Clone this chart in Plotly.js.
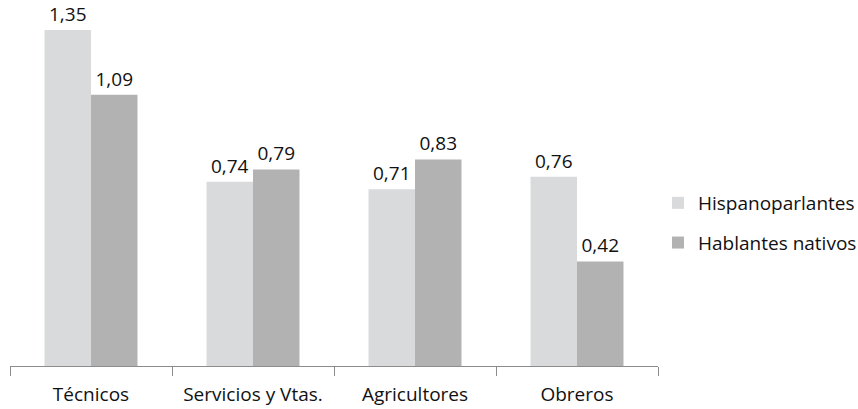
<!DOCTYPE html>
<html>
<head>
<meta charset="utf-8">
<script src="https://cdn.plot.ly/plotly-3.0.1.min.js"></script>
<style>
  html, body { margin: 0; padding: 0; background: #ffffff; }
  #chart { width: 858px; height: 409px; }
</style>
</head>
<body>
<div id="chart"></div>
<script>
// Occupational groups and the value for each speaker group
const categories = ["Técnicos", "Servicios y Vtas.", "Agricultores", "Obreros"];
const hispanoparlantes = [1.35, 0.74, 0.71, 0.76];
const hablantesNativos = [1.09, 0.79, 0.83, 0.42];
const seriesNames = ["Hispanoparlantes", "Hablantes nativos"];

const FONT = "'Open Sans', Lato, sans-serif";

function barTrace(name, values, color, group) {
  return {
    type: "bar",
    name: name,
    x: categories,
    y: values,
    legendgroup: group,
    marker: { color: color, line: { width: 0 } },
    texttemplate: "%{y:.2f}",
    textposition: "outside",
    cliponaxis: false,
    textfont: { family: FONT, size: 19, color: "#111111" },
    hoverinfo: "x+y+name"
  };
}

const data = [
  barTrace(seriesNames[0], hispanoparlantes, "#d9dadb", "a"),
  barTrace(seriesNames[1], hablantesNativos, "#b2b2b2", "b")
];

const layout = {
  width: 858,
  height: 409,
  separators: ",.",
  margin: { l: 10, r: 200, t: 30, b: 43, autoexpand: false },
  paper_bgcolor: "#ffffff",
  plot_bgcolor: "#ffffff",
  font: { family: FONT, size: 19, color: "#111111" },
  barmode: "group",
  bargap: 0.426,
  bargroupgap: 0,
  showlegend: true,
  legend: {
    xref: "container",
    x: 658 / 858,
    xanchor: "left",
    yref: "container",
    y: 1 - 223 / 409,
    yanchor: "middle",
    traceorder: "grouped",
    tracegroupgap: 12,
    font: { family: FONT, size: 19, color: "#111111" },
    bgcolor: "rgba(0,0,0,0)"
  },
  xaxis: {
    type: "category",
    showline: true,
    linecolor: "#8c8c8c",
    linewidth: 1,
    ticks: "outside",
    tickson: "boundaries",
    ticklen: 9,
    tickcolor: "#8c8c8c",
    tickwidth: 1,
    ticklabelstandoff: 11,
    showgrid: false,
    zeroline: false,
    tickfont: { family: FONT, size: 19, color: "#111111" },
    fixedrange: true
  },
  yaxis: {
    range: [0, 1.35],
    visible: false,
    showgrid: false,
    zeroline: false,
    fixedrange: true
  }
};

Plotly.newPlot("chart", data, layout, { displayModeBar: false, staticPlot: true });
</script>
</body>
</html>
